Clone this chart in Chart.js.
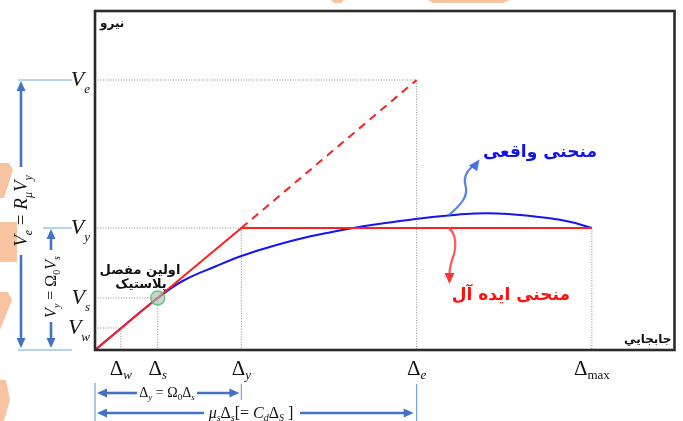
<!DOCTYPE html>
<html>
<head>
<meta charset="utf-8">
<script src="https://cdn.jsdelivr.net/npm/chart.js@4/dist/chart.umd.min.js"></script>
<style>
  html, body { margin: 0; padding: 0; background: #ffffff; }
  #wrap { width: 683px; height: 421px; }
</style>
</head>
<body>
<div id="wrap"><canvas id="c" width="683" height="421"></canvas></div>
<script>
// Characteristic displacements (Δ) and forces (V)
const dispKeys = ['w', 's', 'y', 'e', 'max'];
const dispValues = [26, 63, 147, 323, 499];
const forceKeys = ['e', 'y', 's', 'w'];
const forceValues = [270, 122, 52, 22];

// Idealised bilinear curve and its elastic extension
const idealX = [0, 147, 499];
const idealY = [0, 122, 122];
const elasticX = [147, 323];
const elasticY = [122, 270];

// Actual pushover curve
const actualX = [0, 30, 63, 88, 122, 147, 172, 205, 238, 262, 288, 322, 355, 382, 415, 455, 478, 499];
const actualY = [0, 25, 52, 69, 84, 94, 102, 111, 118, 122.5, 126.5, 131, 134.5, 136.5, 136, 132, 128, 122];

// First plastic hinge
const hingeX = [63];
const hingeY = [52];

const xMax = 582, yMax = 339;

const D = k => dispValues[dispKeys.indexOf(k)];
const F = k => forceValues[forceKeys.indexOf(k)];
const pts = (xs, ys) => xs.map((x, i) => ({ x, y: ys[i] }));

// dotted reference lines for each characteristic point
const guidePairs = [['w', 'w'], ['s', 's'], ['y', 'y'], ['e', 'e']];
const guideSets = guidePairs.map(([dk, fk]) => ({
  data: [{ x: 0, y: F(fk) }, { x: D(dk), y: F(fk) }, { x: D(dk), y: 0 }],
  borderColor: '#8a8a8a', borderWidth: 1, borderDash: [1, 1.6],
  pointRadius: 0, order: 6
}));
guideSets.push({
  data: [{ x: D('max'), y: F('y') }, { x: D('max'), y: 0 }],
  borderColor: '#8a8a8a', borderWidth: 1, borderDash: [1, 1.6],
  pointRadius: 0, order: 6
});

const SERIF = '"Liberation Serif", "DejaVu Serif", serif';
const SANS = '"DejaVu Sans", "Noto Sans", sans-serif';

// draw a run of math segments: {t, it, sz, dy}
function drawRich(ctx, segs, x, y, align) {
  let total = 0;
  const widths = segs.map(s => {
    ctx.font = (s.it ? 'italic ' : '') + s.sz + 'px ' + SERIF;
    const w = ctx.measureText(s.t).width;
    total += w;
    return w;
  });
  let cx = align === 'right' ? x - total : align === 'center' ? x - total / 2 : x;
  ctx.textAlign = 'left';
  ctx.textBaseline = 'alphabetic';
  segs.forEach((s, i) => {
    ctx.font = (s.it ? 'italic ' : '') + s.sz + 'px ' + SERIF;
    ctx.fillText(s.t, cx, y + (s.dy || 0));
    cx += widths[i];
  });
  return total;
}

function arrowHead(ctx, x, y, ang, len, wid) {
  ctx.save();
  ctx.translate(x, y);
  ctx.rotate(ang);
  ctx.beginPath();
  ctx.moveTo(0, 0);
  ctx.lineTo(-len, -wid / 2);
  ctx.lineTo(-len, wid / 2);
  ctx.closePath();
  ctx.fill();
  ctx.restore();
}

function dimArrow(ctx, x1, y1, x2, y2) {
  // shaft from (x1,y1) to head tip at (x2,y2)
  const ang = Math.atan2(y2 - y1, x2 - x1);
  ctx.beginPath();
  ctx.moveTo(x1, y1);
  ctx.lineTo(x2 - Math.cos(ang) * 8, y2 - Math.sin(ang) * 8);
  ctx.stroke();
  arrowHead(ctx, x2, y2, ang, 10, 9);
}

const decor = {
  id: 'decor',
  beforeDraw(chart) {
    const ctx = chart.ctx;
    ctx.save();
    ctx.fillStyle = '#ffffff';
    ctx.fillRect(0, 0, chart.width, chart.height);
    // faint peach watermark fragments along the edges
    ctx.fillStyle = '#f8c3a0';
    const shapes = [
      [[0, 163], [9, 163], [13, 170], [4, 198], [0, 198]],
      [[0, 222], [17, 222], [17, 262], [0, 262]],
      [[0, 292], [8, 292], [12, 300], [0, 330]],
      [[0, 380], [6, 380], [10, 400], [4, 421], [0, 421]],
      [[331, 0], [344, 0], [341, 3], [334, 3]],
      [[428, 0], [510, 0], [503, 3], [433, 3]]
    ];
    shapes.forEach(s => {
      ctx.beginPath();
      s.forEach(([x, y], i) => i ? ctx.lineTo(x, y) : ctx.moveTo(x, y));
      ctx.closePath();
      ctx.fill();
    });
    ctx.restore();
  },
  afterDraw(chart) {
    const ctx = chart.ctx;
    const xs = chart.scales.x, ys = chart.scales.y;
    const a = chart.chartArea;
    const px = v => xs.getPixelForValue(v);
    const py = v => ys.getPixelForValue(v);
    ctx.save();

    // frame
    ctx.strokeStyle = '#2b2b2b';
    ctx.lineWidth = 2.6;
    ctx.strokeRect(a.left, a.top, a.right - a.left, a.bottom - a.top);

    // axis titles
    ctx.fillStyle = '#111';
    ctx.font = 'bold 12px ' + SANS;
    ctx.textBaseline = 'middle';
    ctx.textAlign = 'left';
    ctx.fillText('نیرو', a.left + 5, a.top + 13);
    ctx.textAlign = 'right';
    ctx.fillText('جابجايي', a.right - 3, a.bottom - 10);

    // force labels V_i
    ctx.fillStyle = '#111';
    forceKeys.forEach((k, i) => {
      const y = py(forceValues[i]);
      drawRich(ctx, [
        { t: 'V', it: true, sz: 22 },
        { t: k, it: true, sz: 13, dy: 7 }
      ], 90, y + 6, 'right');
    });

    // displacement labels Δ_i
    dispKeys.forEach((k, i) => {
      const x = px(dispValues[i]);
      drawRich(ctx, [
        { t: 'Δ', it: false, sz: 21 },
        { t: k, it: k !== 'max', sz: 13, dy: 4 }
      ], x, 375, 'center');
    });

    // dimension lines on the left
    ctx.strokeStyle = '#6fa8dc';
    ctx.lineWidth = 1.2;
    ctx.beginPath();
    ctx.moveTo(18, py(F('e'))); ctx.lineTo(72, py(F('e')));
    ctx.moveTo(43, py(F('y'))); ctx.lineTo(72, py(F('y')));
    ctx.moveTo(18, py(0)); ctx.lineTo(72, py(0));
    ctx.stroke();

    ctx.strokeStyle = '#4472c4';
    ctx.fillStyle = '#4472c4';
    ctx.lineWidth = 2.6;
    dimArrow(ctx, 21, 167, 21, py(F('e')) + 1);
    dimArrow(ctx, 21, 255, 21, py(0) - 2);
    dimArrow(ctx, 51, 250, 51, py(F('y')) + 1);
    dimArrow(ctx, 51, 322, 51, py(0) - 2);

    ctx.fillStyle = '#111';
    ctx.save();
    ctx.translate(27, 211);
    ctx.rotate(-Math.PI / 2);
    drawRich(ctx, [
      { t: 'V', it: true, sz: 19 }, { t: 'e', it: true, sz: 12, dy: 5 },
      { t: ' = ', it: false, sz: 19 },
      { t: 'R', it: true, sz: 19 }, { t: 'μ', it: true, sz: 12, dy: 5 },
      { t: 'V', it: true, sz: 19 }, { t: 'y', it: true, sz: 12, dy: 5 }
    ], 0, 0, 'center');
    ctx.restore();
    ctx.save();
    ctx.translate(56, 287);
    ctx.rotate(-Math.PI / 2);
    drawRich(ctx, [
      { t: 'V', it: true, sz: 16 }, { t: 'y', it: true, sz: 10, dy: 4 },
      { t: ' = ', it: false, sz: 16 },
      { t: 'Ω', it: false, sz: 16 }, { t: '0', it: false, sz: 10, dy: 4 },
      { t: 'V', it: true, sz: 16 }, { t: 's', it: true, sz: 10, dy: 4 }
    ], 0, 0, 'center');
    ctx.restore();

    // dimension lines at the bottom
    ctx.strokeStyle = '#6fa8dc';
    ctx.lineWidth = 1.2;
    ctx.beginPath();
    ctx.moveTo(px(0), 383); ctx.lineTo(px(0), 421);
    ctx.moveTo(px(D('y')), 384); ctx.lineTo(px(D('y')), 400);
    ctx.moveTo(px(D('e')), 384); ctx.lineTo(px(D('e')), 421);
    ctx.stroke();

    ctx.strokeStyle = '#4472c4';
    ctx.fillStyle = '#4472c4';
    ctx.lineWidth = 2.6;
    dimArrow(ctx, 137, 393, px(0) + 2, 393);
    dimArrow(ctx, 197, 393, px(D('y')) - 2, 393);
    dimArrow(ctx, 204, 413, px(0) + 2, 413);
    dimArrow(ctx, 300, 413, px(D('e')) - 3, 413);

    ctx.fillStyle = '#111';
    drawRich(ctx, [
      { t: 'Δ', it: false, sz: 14 }, { t: 'y', it: true, sz: 9, dy: 3 },
      { t: ' = ', it: false, sz: 14 },
      { t: 'Ω', it: false, sz: 14 }, { t: '0', it: false, sz: 9, dy: 3 },
      { t: 'Δ', it: false, sz: 14 }, { t: 's', it: true, sz: 9, dy: 3 }
    ], 167, 397, 'center');
    drawRich(ctx, [
      { t: 'μ', it: true, sz: 16 }, { t: 's', it: true, sz: 10, dy: 3 },
      { t: 'Δ', it: false, sz: 16 }, { t: 's', it: true, sz: 10, dy: 3 },
      { t: '[= ', it: false, sz: 16 },
      { t: 'C', it: true, sz: 16 }, { t: 'd', it: true, sz: 10, dy: 3 },
      { t: 'Δ', it: false, sz: 16 }, { t: 'S', it: true, sz: 10, dy: 3 },
      { t: ' ]', it: false, sz: 16 }
    ], 251, 418, 'center');

    // curve callouts
    const bx = px(355), by = py(134.5);
    ctx.strokeStyle = 'rgba(60,110,225,0.85)';
    ctx.fillStyle = 'rgba(60,110,225,0.95)';
    ctx.lineWidth = 2.2;
    ctx.beginPath();
    ctx.moveTo(bx, by);
    ctx.bezierCurveTo(bx + 14, by - 12, bx + 20, by - 20, bx + 17, by - 30);
    ctx.bezierCurveTo(bx + 14, by - 40, bx + 20, by - 46, bx + 25, by - 50);
    ctx.stroke();
    arrowHead(ctx, bx + 31, by - 56, -0.95, 11, 10);

    const rx = px(355), ry = py(122);
    ctx.strokeStyle = 'rgba(255,70,70,0.9)';
    ctx.fillStyle = 'rgba(255,40,40,0.95)';
    ctx.beginPath();
    ctx.moveTo(rx, ry);
    ctx.bezierCurveTo(rx + 8, ry + 6, rx + 8, ry + 18, rx + 5, ry + 28);
    ctx.bezierCurveTo(rx + 2, ry + 36, rx + 1, ry + 40, rx + 1, ry + 46);
    ctx.stroke();
    arrowHead(ctx, rx + 1, ry + 56, Math.PI / 2, 11, 10);

    ctx.textBaseline = 'middle';
    ctx.textAlign = 'right';
    ctx.font = 'bold 17px ' + SANS;
    ctx.fillStyle = '#1212f0';
    ctx.fillText('منحنی واقعی', 597, 153);
    ctx.fillStyle = '#ff1010';
    ctx.fillText('منحنی ایده آل', 570, 296);

    // first plastic hinge note
    ctx.fillStyle = '#111';
    ctx.textAlign = 'center';
    ctx.font = 'bold 13px ' + SANS;
    ctx.fillText('اولین مفصل', 140, 271);
    ctx.fillText('پلاستیک', 141, 285);

    ctx.restore();
  }
};

new Chart(document.getElementById('c'), {
  type: 'line',
  data: {
    datasets: [
      {
        data: pts(hingeX, hingeY), showLine: false,
        pointRadius: 7, pointBackgroundColor: 'rgba(160,190,170,0.6)',
        pointBorderColor: 'rgba(80,185,110,0.8)', pointBorderWidth: 1.5, order: 0
      },
      {
        data: pts(idealX, idealY), borderColor: '#ff2020', borderWidth: 2,
        pointRadius: 0, tension: 0, order: 1
      },
      {
        data: pts(elasticX, elasticY), borderColor: '#ff2020', borderWidth: 2,
        borderDash: [8, 6], pointRadius: 0, tension: 0, order: 1
      },
      {
        data: pts(actualX, actualY), borderColor: '#1414f5', borderWidth: 2,
        pointRadius: 0, tension: 0.4, order: 2
      },
      ...guideSets
    ]
  },
  options: {
    responsive: false,
    animation: false,
    events: [],
    layout: { padding: { left: 95, right: 6, top: 11, bottom: 71 } },
    plugins: { legend: { display: false }, tooltip: { enabled: false } },
    scales: {
      x: { type: 'linear', min: 0, max: xMax, display: false },
      y: { type: 'linear', min: 0, max: yMax, display: false }
    }
  },
  plugins: [decor]
});
</script>
</body>
</html>
